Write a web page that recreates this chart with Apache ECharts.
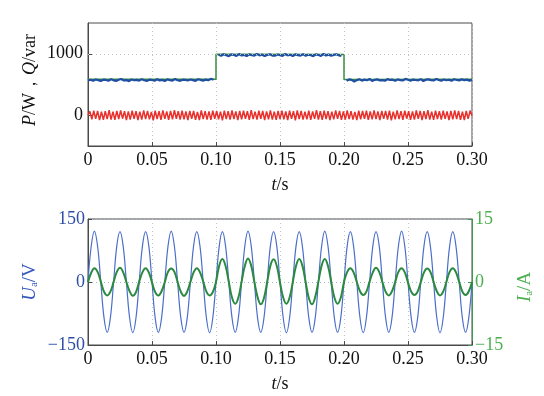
<!DOCTYPE html>
<html>
<head>
<meta charset="utf-8">
<script src="https://cdn.jsdelivr.net/npm/echarts@6/dist/echarts.min.js"></script>
<style>
  html, body { margin: 0; padding: 0; background: #fff; }
  #chart { width: 544px; height: 396px; }
</style>
</head>
<body>
<div id="chart"></div>
<script>
// ---- data ----
const xTicks = [0, 0.05, 0.10, 0.15, 0.20, 0.25, 0.30]

// top panel: P (blue), Q (green), red near zero
const pStep = 0.002
const pSeg1 = [565,578,560,582,571,556,580,574,562,585,568,559,577,590,566,572,555,581,569,576,563,587,570,558,579,573,561,584,567,575,557,583,572,564,589,569,560,578,574,566,582,571,559,586,575,563,580,568,592,576]
const pSeg2 = [985,968,992,975,960,988,979,966,995,972,981,963,990,976,969,998,974,985,962,980,991,971,967,987,978,964,996,973,983,961,989,977,970,993,968,984,975,962,990,979,966,997,972,986,969,981,992,974,965]
const pSeg3 = [560,582,575,548,571,586,563,579,569,590,557,576,584,566,572,561,588,574,579,559,583,570,565,591,577,562,580,573,568,587,556,578,584,571,566,589,575,562,581,569,577,560,586,574,567,583,572,579,563,576]

const qTime = [0, 0.1, 0.1, 0.2, 0.2, 0.3]
const qVals = [584, 586, 990, 988, 582, 584]

const rStep = 0.0015
const rVals = [0,63,-67,76,-60,70,-78,57,-73,65,
  -62,81,-69,59,-75,72,-64,77,-56,68,
  -80,62,-70,74,-58,66,-77,60,-72,79,
  -63,71,-66,55,-81,73,-61,67,-74,78,
  -59,64,-76,70,-68,82,-57,65,-71,75,
  -65,61,-79,72,-60,69,-73,56,-77,80,
  -62,68,-70,63,-75,76,-58,71,-67,59,
  -82,74,-64,65,-72,77,-61,62,-78,70,
  -66,73,-59,67,-76,81,-63,60,-69,75,
  -57,72,-80,64,-65,78,-71,58,-74,69,
  -62,76,-68,61,-77,73,-60,66,-81,79,
  -64,70,-72,57,-67,75,-76,63,-59,82,
  -70,65,-73,74,-61,68,-78,60,-66,77,
  -58,71,-75,62,-69,80,-63,67,-72,56,
  -79,73,-65,69,-60,76,-74,61,-68,78,
  -62,64,-77,72,-59,70,-71,75,-81,58,
  -67,79,-63,66,-73,74,-56,68,-76,62,
  -70,77,-60,71,-78,65,-64,81,-69,59,
  -75,73,-61,67,-72,76,-58,63,-80,70,
  -66,78,-62,72,-74,60,-77,69,-59,75,
  -8]

// bottom panel: Ua (V) and Ia (A), sampled every 1/8 period
const uStep = 0.0025
const uVals = [
  0,85,121,85,0,-85,-120,-85, 0,86,120,85,0,-85,-121,-85, 0,85,120,86,0,-86,-120,-85,
  0,85,121,85,0,-85,-120,-86, 0,86,120,85,0,-85,-121,-85, 0,85,120,85,0,-85,-120,-85,
  0,85,121,86,0,-86,-120,-85, 0,86,120,85,0,-85,-121,-85, 0,85,120,85,0,-85,-120,-86,
  0,85,121,85,0,-86,-120,-85, 0,86,120,85,0,-85,-121,-85, 0,85,120,86,0,-85,-120,-85,
  0,85,121,85,0,-85,-120,-86, 0,86,120,85,0,-85,-121,-85, 0,85,120,85,0,-86,-120,-85,
  0]
const iVals = [
  0,2.2,3.3,2.4,0.1,-2.3,-3.2,-2.3, 0,2.4,3.4,2.3,0,-2.2,-3.3,-2.4, 0.1,2.3,3.3,2.3,-0.1,-2.4,-3.2,-2.2,
  0,2.4,3.2,2.4,0,-2.3,-3.3,-2.3, 0,2.3,3.3,2.3,0.1,-2.3,-3.2,-2.4,
  0,3.9,5.5,3.8,0,-3.7,-5.2,-3.7, 0.1,3.8,5.6,3.9,0,-3.6,-5.3,-3.8, 0,3.9,5.4,3.8,-0.1,-3.7,-5.2,-3.7,
  0,3.8,5.5,3.9,0,-3.8,-5.3,-3.6, 0.1,3.9,5.5,3.8,0,-3.7,-5.2,-3.7,
  0,2.4,3.3,2.3,0,-2.2,-3.1,-2.3, 0.1,2.3,3.4,2.4,0,-2.3,-3.2,-2.2, 0,2.4,3.3,2.3,-0.1,-2.3,-3.1,-2.3,
  0,2.3,3.2,2.4,0,-2.2,-3.2,-2.3, 0,2.4,3.3,2.3,0,-2.3,-3.1,-2.2,
  0]

// ---- helpers ----
const pairs = (vals, step) => vals.map((v, i) => [+(i * step).toFixed(4), v])
const pData = pairs([...pSeg1, null, ...pSeg2, null, ...pSeg3], pStep)
const qData = qTime.map((t, i) => [t, qVals[i]])

const font = 'Liberation Serif'
const frame = '#4a4a4a'
const gridDot = { color: '#c4c4c4', type: [1, 3], width: 1 }
const minus = v => (v < 0 ? '\u2212' + Math.abs(v) : String(v))

function xAxisCfg(gridIndex) {
  return {
    type: 'value', gridIndex, min: 0, max: 0.3, interval: 0.05,
    axisLine: { onZero: false, lineStyle: { color: frame } },
    axisTick: { inside: true, length: 4, lineStyle: { color: frame } },
    axisLabel: {
      color: '#111', fontFamily: font, fontSize: 18, margin: 5,
      formatter: v => (v === 0 ? '0' : v.toFixed(2))
    },
    splitLine: { show: true, lineStyle: gridDot }
  }
}

const option = {
  animation: false,
  backgroundColor: '#fff',
  grid: [
    { left: 88, right: 72, top: 23, height: 123, show: true, borderColor: frame, borderWidth: 1 },
    { left: 88, right: 72, top: 219, height: 126, show: true, borderColor: frame, borderWidth: 1 }
  ],
  xAxis: [xAxisCfg(0), xAxisCfg(1)],
  yAxis: [
    {
      type: 'value', gridIndex: 0, min: -500, max: 1500, interval: 500,
      axisLine: { show: true, lineStyle: { color: frame } },
      axisTick: { show: true, inside: true, length: 4, customValues: [0, 1000], lineStyle: { color: frame } },
      axisLabel: { color: '#111', fontFamily: font, fontSize: 18, margin: 5, customValues: [0, 1000],
        formatter: v => String(v) },
      splitLine: { show: false }
    },
    {
      type: 'value', gridIndex: 1, min: -150, max: 150, interval: 150,
      axisLine: { show: true, lineStyle: { color: frame } },
      axisTick: { show: true, inside: true, length: 4, lineStyle: { color: frame } },
      axisLabel: { color: '#2f4ea6', fontFamily: font, fontSize: 18, margin: 3, formatter: minus },
      splitLine: { show: true, lineStyle: { color: '#aab4e0', type: [1, 3], width: 1 } }
    },
    {
      type: 'value', gridIndex: 1, position: 'right', min: -15, max: 15, interval: 15,
      axisLine: { show: true, lineStyle: { color: '#3f9a4f' } },
      axisTick: { show: true, inside: true, length: 4, lineStyle: { color: '#3f9a4f' } },
      axisLabel: { color: '#4caf50', fontFamily: font, fontSize: 18, margin: 3, formatter: minus },
      splitLine: { show: false }
    }
  ],
  series: [
    {
      name: 'Q', type: 'line', xAxisIndex: 0, yAxisIndex: 0, data: qData,
      symbol: 'none', lineStyle: { color: '#3a8f3f', width: 1.5 },
      markLine: {
        silent: true, symbol: 'none', label: { show: false },
        lineStyle: gridDot, data: [{ yAxis: 1000 }]
      }
    },
    {
      name: 'P', type: 'line', xAxisIndex: 0, yAxisIndex: 0, data: pData,
      symbol: 'none', connectNulls: false, lineStyle: { color: '#1f4fa3', width: 2.2 }
    },
    {
      name: 'R', type: 'line', xAxisIndex: 0, yAxisIndex: 0, data: pairs(rVals, rStep),
      symbol: 'none', lineStyle: { color: '#e8312c', width: 1.5 }
    },
    {
      name: 'Ua', type: 'line', xAxisIndex: 1, yAxisIndex: 1, data: pairs(uVals, uStep),
      symbol: 'none', smooth: 0.4, lineStyle: { color: '#4a6fca', width: 1.2 }
    },
    {
      name: 'Ia', type: 'line', xAxisIndex: 1, yAxisIndex: 2, data: pairs(iVals, uStep),
      symbol: 'none', smooth: 0.4, lineStyle: { color: '#2b8a3e', width: 2 }
    }
  ],
  graphic: [
    {
      type: 'text', x: 30, y: 80, rotation: Math.PI / 2,
      style: {
        text: '{i|P}/W\uff0c{i|Q}/var', fill: '#111', font: '18px "Liberation Serif"',
        align: 'center', verticalAlign: 'middle',
        rich: { i: { fontStyle: 'italic', fontFamily: font, fontSize: 18, fill: '#111' } }
      }
    },
    {
      type: 'text', x: 280, y: 185,
      style: {
        text: '{i|t}/s', fill: '#111', font: '18px "Liberation Serif"',
        align: 'center', verticalAlign: 'middle',
        rich: { i: { fontStyle: 'italic', fontFamily: font, fontSize: 18, fill: '#111' } }
      }
    },
    {
      type: 'text', x: 280, y: 384,
      style: {
        text: '{i|t}/s', fill: '#111', font: '18px "Liberation Serif"',
        align: 'center', verticalAlign: 'middle',
        rich: { i: { fontStyle: 'italic', fontFamily: font, fontSize: 18, fill: '#111' } }
      }
    },
    {
      type: 'text', x: 30, y: 282, rotation: Math.PI / 2,
      style: {
        text: '{i|U}{s|a}/V', fill: '#3558bd', font: '19px "Liberation Serif"',
        align: 'center', verticalAlign: 'middle',
        rich: {
          i: { fontStyle: 'italic', fontFamily: font, fontSize: 19, fill: '#3558bd' },
          s: { fontFamily: font, fontSize: 11, fill: '#3558bd', verticalAlign: 'bottom', padding: [8, 0, 0, 0] }
        }
      }
    },
    {
      type: 'text', x: 525, y: 287, rotation: Math.PI / 2,
      style: {
        text: '{i|I}{s|a}/A', fill: '#4caf50', font: '19px "Liberation Serif"',
        align: 'center', verticalAlign: 'middle',
        rich: {
          i: { fontStyle: 'italic', fontFamily: font, fontSize: 19, fill: '#4caf50' },
          s: { fontFamily: font, fontSize: 11, fill: '#4caf50', verticalAlign: 'bottom', padding: [8, 0, 0, 0] }
        }
      }
    }
  ]
}

const chart = echarts.init(document.getElementById('chart'))
chart.setOption(option)
window.addEventListener('resize', chart.resize)
</script>
</body>
</html>
